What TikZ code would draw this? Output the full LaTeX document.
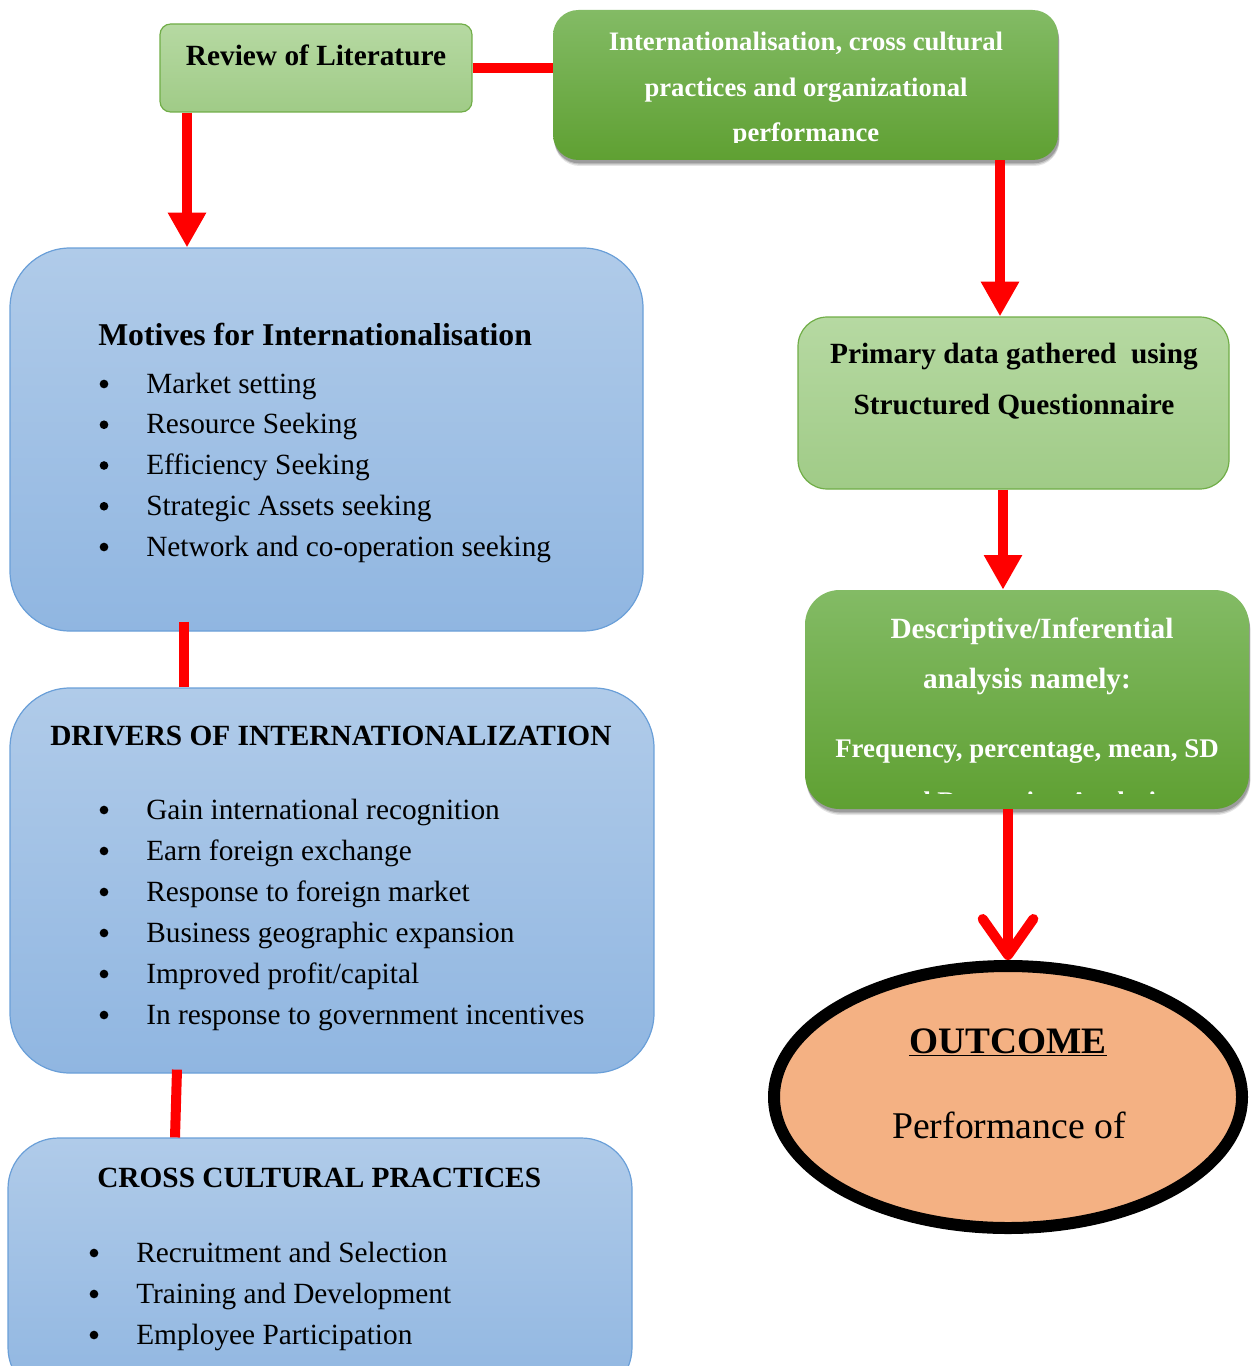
\documentclass[tikz,border=0pt]{standalone}
\usepackage{fontspec}
\setmainfont{Liberation Serif}
\usetikzlibrary{arrows.meta,shadows,shapes.geometric}
\definecolor{grnb}{HTML}{70AD47}
\definecolor{lgtop}{HTML}{B6D9A2}
\definecolor{lgbot}{HTML}{A0CB87}
\definecolor{dgtop}{HTML}{83BB65}
\definecolor{dgbot}{HTML}{5FA032}
\definecolor{bltop}{HTML}{B0CBE9}
\definecolor{blbot}{HTML}{90B6E1}
\definecolor{blb}{HTML}{6A9FD8}
\definecolor{outfill}{HTML}{F4B183}
\definecolor{redc}{HTML}{FF0000}
\tikzset{
  lgbox/.style={draw=grnb, line width=0.9pt, top color=lgtop, bottom color=lgbot, inner sep=0pt},
  dgbox/.style={draw=none, top color=dgtop, bottom color=dgbot, inner sep=0pt,
     drop shadow={shadow xshift=1pt, shadow yshift=-4.5pt, opacity=0.10, fill=black},
     drop shadow={shadow xshift=1pt, shadow yshift=-3.5pt, opacity=0.15, fill=black},
     drop shadow={shadow xshift=0.7pt, shadow yshift=-2.5pt, opacity=0.2, fill=black}},
  blbox/.style={draw=blb, line width=0.9pt, top color=bltop, bottom color=blbot, inner sep=0pt},
  txt/.style={inner sep=0pt, anchor=base, font=\fontsize{22}{26}\selectfont},
  ttl/.style={txt, font=\fontsize{22}{26}\selectfont\bfseries},
  wtx/.style={txt, text=white, font=\fontsize{20}{24}\selectfont\bfseries},
  itm/.style={txt, anchor=base west},
  bul/.style={circle, fill=black, inner sep=0pt, minimum size=6.5pt},
  redline/.style={draw=redc, line width=7.5pt},
  redarrow/.style={redline, -{Triangle[length=26pt,width=27pt]}},
  chevarrow/.style={redline, -{Straight Barb[length=27pt,width=38pt,round]}},
}
\begin{document}
\begin{tikzpicture}[x=0.75pt,y=-0.75pt]
\useasboundingbox (0,0) rectangle (1253,1366);
\clip (0,0) rectangle (1253,1366);

% boxes
\node[lgbox, rounded corners=8pt, minimum width=234pt, minimum height=66pt] (rev) at (316,68) {};
\node[dgbox, rounded corners=19pt, minimum width=378.75pt, minimum height=112.5pt] (tg) at (805.5,85) {};
\node[blbox, rounded corners=45pt, minimum width=474.75pt, minimum height=287.25pt] (mot) at (326.5,439.5) {};
\node[blbox, rounded corners=45pt, minimum width=483pt, minimum height=288.75pt] (drv) at (332,880.5) {};
\node[blbox, rounded corners=38pt, minimum width=468pt, minimum height=195pt] (crs) at (320,1268) {};
\node[lgbox, rounded corners=22pt, minimum width=323.25pt, minimum height=129pt] (prim) at (1013.5,403) {};
\node[dgbox, rounded corners=26pt, minimum width=333pt, minimum height=164.25pt] (desc) at (1027,699.5) {};
\node[ellipse, draw=black, line width=9pt, fill=outfill, inner sep=0pt, minimum width=351pt, minimum height=196.5pt] (out) at (1008,1097) {};

% connectors
\coordinate (c1) at (187,0);
\coordinate (c2) at (184,0);
\coordinate (c3) at (177,0);
\coordinate (c4) at (175,0);
\coordinate (c5) at (1000,0);
\coordinate (c6) at (1003,0);
\coordinate (c7) at (1008,0);
\draw[redline] (rev.east) -- (tg.west |- rev.east);
\draw[redarrow] (rev.south -| c1) -- (mot.north -| c1);
\draw[redline] ([yshift=7.5pt]mot.south -| c2) -- (drv.north -| c2);
\draw[redline] ([yshift=3pt]drv.south -| c3) -- (crs.north -| c4);
\draw[redarrow] (tg.south -| c5) -- (prim.north -| c5);
\draw[redarrow] (prim.south -| c6) -- (desc.north -| c6);
\draw[chevarrow] (desc.south -| c7) -- (out.north -| c7);

% texts
\node[ttl] (revt) at (316,66) {Review of Literature};

\begin{scope}
\clip (553,10) rectangle (1058,143);
\node[wtx] (tg1) at (806,51) {Internationalisation, cross cultural};
\node[wtx] (tg2) at (806,97) {practices and organizational};
\node[wtx] (tg3) at (806,142) {performance};
\end{scope}

\node[ttl, anchor=base west, font=\fontsize{23.8}{28}\selectfont\bfseries] (mott) at (98,345) {Motives for Internationalisation};
\foreach \t [count=\i] in {Market setting, Resource Seeking, Efficiency Seeking, Strategic Assets seeking, Network and co-operation seeking}{
  \node[bul] (mb\i) at (104,{384+40.75*(\i-1)}) {};
  \node[itm] (mi\i) at (146,{393+40.75*(\i-1)}) {\t};
}

\node[ttl, anchor=base west] (drvt) at (50,745) {DRIVERS OF INTERNATIONALIZATION};
\foreach \t [count=\i] in {Gain international recognition, Earn foreign exchange, Response to foreign market, Business geographic expansion, Improved profit/capital, In response to government incentives}{
  \node[bul] (db\i) at (104,{810+41*(\i-1)}) {};
  \node[itm] (di\i) at (146,{819+41*(\i-1)}) {\t};
}

\node[ttl, anchor=base west] (crst) at (97,1187) {CROSS CULTURAL PRACTICES};
\foreach \t [count=\i] in {Recruitment and Selection, Training and Development, Employee Participation}{
  \node[bul] (cb\i) at (94,{1253+41*(\i-1)}) {};
  \node[itm] (ci\i) at (136,{1262+41*(\i-1)}) {\t};
}

\node[ttl] (pr1) at (1014,363) {Primary data gathered\ \ using};
\node[ttl] (pr2) at (1014,414) {Structured Questionnaire};

\begin{scope}
\clip (805,590) rectangle (1249,793);
\node[wtx, font=\fontsize{22}{26}\selectfont\bfseries] (de1) at (1032,638) {Descriptive/Inferential};
\node[wtx, font=\fontsize{22}{26}\selectfont\bfseries] (de2) at (1027,688) {analysis namely:};
\node[wtx, font=\fontsize{20.2}{24}\selectfont\bfseries] (de3) at (1027,757) {Frequency, percentage, mean, SD};
\node[wtx, font=\fontsize{20.2}{24}\selectfont\bfseries] (de4) at (1027,810) {and Regression Analysis};
\end{scope}

\node[ttl, font=\fontsize{28}{33}\selectfont\bfseries] (ou1) at (1008,1053) {\underline{OUTCOME}};
\node[txt, font=\fontsize{28.3}{33}\selectfont] (ou2) at (1009,1138) {Performance of};
\end{tikzpicture}
\end{document}
